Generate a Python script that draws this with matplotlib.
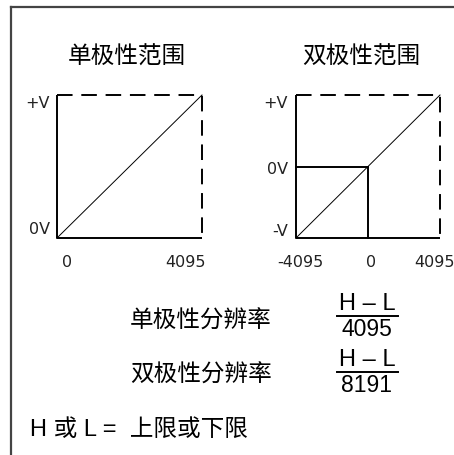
import matplotlib.pyplot as plt
from matplotlib.lines import Line2D

plt.rcParams['font.family'] = ['Liberation Sans', 'Noto Sans CJK SC', 'DejaVu Sans']

W, H = 454, 455

# data
uni_x = [0, 4095]
uni_y = [0, 1]          # 0V .. +V
bi_x = [-4095, 4095]
bi_y = [-1, 1]          # -V .. +V
uni_xticks = ["0", "4095"]
bi_xticks = ["-4095", "0", "4095"]
uni_ylabels = ["0V", "+V"]
bi_ylabels = ["-V", "0V", "+V"]
titles = ["单极性范围", "双极性范围"]
res_labels = ["单极性分辨率", "双极性分辨率"]
res_denoms = ["4095", "8191"]
note = "H 或 L =  上限或下限"


def fx(x):
    return x / W


def fy(y):
    return 1 - y / H


fig = plt.figure(figsize=(W / 100, H / 100), dpi=100)

# outer frame (left and top only)
fig.add_artist(Line2D([fx(11), fx(11)], [fy(7), 0], color="#444444", lw=1.6))
fig.add_artist(Line2D([fx(11), 1], [fy(7), fy(7)], color="#444444", lw=1.6))

ax1 = fig.add_axes([fx(57), fy(238), (202 - 57) / W, (238 - 95) / H])
ax2 = fig.add_axes([fx(296), fy(238), (440 - 296) / W, (238 - 95) / H])


def frame(ax, xs, ys):
    x0, x1 = xs[0], xs[-1]
    y0, y1 = ys[0], ys[-1]
    ax.plot([x0, x0, x1], [y1, y0, y0], color="black", lw=1.4, clip_on=False,
            solid_capstyle="butt")
    ax.plot([x0, x1, x1], [y1, y1, y0], color="black", lw=1.4, clip_on=False,
            linestyle=(0, (8, 4.5)))
    ax.plot(xs, ys, color="black", lw=0.7, clip_on=False)
    ax.set_xlim(x0, x1)
    ax.set_ylim(y0, y1)
    ax.axis("off")


frame(ax1, uni_x, uni_y)
frame(ax2, bi_x, bi_y)
# zero lines for the bipolar range
ax2.plot([bi_x[0], 0], [0, 0], color="black", lw=1.4, clip_on=False)
ax2.plot([0, 0], [bi_y[0], 0], color="black", lw=1.4, clip_on=False)

small = dict(fontsize=11.5, family=["DejaVu Sans"], color="#222222",
             textcoords="offset points", va="center")

# x tick labels
ax1.annotate(uni_xticks[0], (uni_x[0], uni_y[0]), xytext=(7, -17.5), ha="center", **small)
ax1.annotate(uni_xticks[1], (uni_x[1], uni_y[0]), xytext=(-12, -17.5), ha="center", **small)
for lab, xv, dx in zip(bi_xticks, [bi_x[0], 0, bi_x[1]], [3, 2, -4]):
    ax2.annotate(lab, (xv, bi_y[0]), xytext=(dx, -17.5), ha="center", **small)

# y labels
ax1.annotate(uni_ylabels[0], (uni_x[0], uni_y[0]), xytext=(-5, 6), ha="right", **small)
ax1.annotate(uni_ylabels[1], (uni_x[0], uni_y[1]), xytext=(-5, -6), ha="right", **small)
for lab, yv, dy in zip(bi_ylabels, [bi_y[0], 0, bi_y[1]], [4.5, -2, -6]):
    ax2.annotate(lab, (bi_x[0], yv), xytext=(-6, dy), ha="right", **small)

# titles
fig.text(fx(127), fy(58), titles[0], fontsize=17, ha="center", va="center")
fig.text(fx(361), fy(58), titles[1], fontsize=17, ha="center", va="center")

# resolution formulas
for lab, den, yc, yl in zip(res_labels, res_denoms, [322, 376], [316, 372]):
    fig.text(fx(201), fy(yc), lab, fontsize=17, ha="center", va="center")
    fig.text(fx(367), fy(yl - 12), "H – L", fontsize=17, ha="center", va="center")
    fig.text(fx(367), fy(yl + 14), den, fontsize=16.5, ha="center", va="center")
    fig.add_artist(Line2D([fx(337), fx(398)], [fy(yl), fy(yl)], color="black", lw=1.4))

fig.text(fx(30), fy(430), note, fontsize=17, ha="left", va="center")

fig.savefig("out.png", dpi=100)
